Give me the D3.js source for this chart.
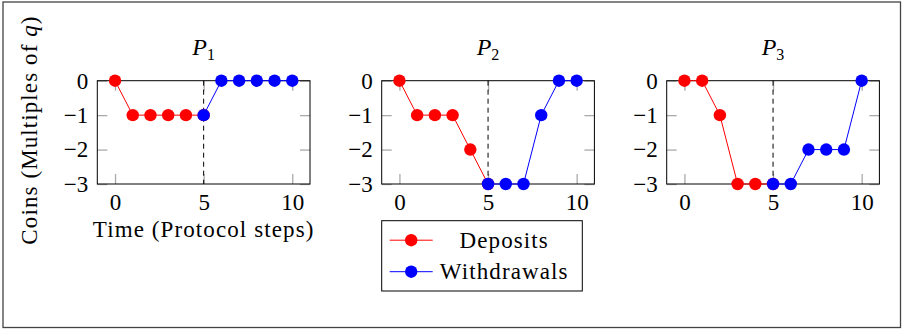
<!DOCTYPE html>
<html>
<head>
<meta charset="utf-8">
<script src="https://cdn.jsdelivr.net/npm/d3@7"></script>
<style>
  body { margin: 0; background: #fff; }
  svg text { font-family: "Liberation Serif", "Times New Roman", serif; fill: #000; }
  .label { letter-spacing: 1.1px; }
</style>
</head>
<body>
<div id="chart"></div>
<script>
// data
const panels = ['1', '2', '3'];
const depositSteps = [0, 1, 2, 3, 4, 5];
const withdrawalSteps = [5, 6, 7, 8, 9, 10];
const deposits = [
  [0, -1, -1, -1, -1, -1],
  [0, -1, -1, -1, -2, -3],
  [0, 0, -1, -3, -3, -3]
];
const withdrawals = [
  [-1, 0, 0, 0, 0, 0],
  [-3, -3, -3, -1, 0, 0],
  [-3, -3, -2, -2, -2, 0]
];
const xTicks = [0, 5, 10];
const yTicks = [0, -1, -2, -3];
const switchStep = 5;
const legendLabels = ['Deposits', 'Withdrawals'];
const colors = ['#ff0000', '#0000ff'];

// layout
const W = 903, H = 331;
const plotLeft = [97.3, 381.7, 666.7];
const plotTop = 80.7;
const plotW = 212.7, plotH = 103.3;
const tickLen = 10;
const fontSize = 23;

const svg = d3.select('#chart')
  .append('svg')
  .attr('width', W)
  .attr('height', H);

// outer frame
svg.append('rect')
  .attr('x', 3).attr('y', 2)
  .attr('width', 897.5).attr('height', 325.5)
  .attr('fill', 'none')
  .attr('stroke', '#444')
  .attr('stroke-width', 1.3);

const x = d3.scaleLinear().domain([-1, 11]).range([0, plotW]);
const y = d3.scaleLinear().domain([-3, 0]).range([plotH, 0]);
const fmt = d => d < 0 ? '\u2212' + Math.abs(d) : String(d);

panels.forEach((p, i) => {
  const g = svg.append('g')
    .attr('transform', 'translate(' + plotLeft[i] + ',' + plotTop + ')');

  // title
  const title = g.append('text')
    .attr('x', plotW / 2)
    .attr('y', -26)
    .attr('text-anchor', 'middle')
    .style('font-size', '24px');
  title.append('tspan').style('font-style', 'italic').text('P');
  title.append('tspan').attr('dy', 5).style('font-size', '16px').text(p);

  // axes with inward ticks
  const axes = [
    d3.axisLeft(y).tickValues(yTicks).tickSize(-tickLen).tickPadding(9).tickFormat(fmt),
    d3.axisRight(y).tickValues(yTicks).tickSize(-tickLen).tickFormat(''),
    d3.axisBottom(x).tickValues(xTicks).tickSize(-tickLen).tickPadding(10),
    d3.axisTop(x).tickValues(xTicks).tickSize(-tickLen).tickFormat('')
  ];
  const offsets = ['0,0', plotW + ',0', '0,' + plotH, '0,0'];
  axes.forEach((ax, k) => {
    const a = g.append('g')
      .attr('transform', 'translate(' + offsets[k] + ')')
      .call(ax);
    a.select('.domain').remove();
    a.selectAll('.tick line').attr('stroke', '#aaa').attr('stroke-width', 1.3);
    a.selectAll('.tick text')
      .style('font-size', fontSize + 'px')
      .attr('fill', '#000');
  });

  // frame
  g.append('rect')
    .attr('width', plotW).attr('height', plotH)
    .attr('fill', 'none')
    .attr('stroke', '#000')
    .attr('stroke-width', 1);

  // dashed separator
  g.append('line')
    .attr('x1', x(switchStep)).attr('x2', x(switchStep))
    .attr('y1', 0).attr('y2', plotH)
    .attr('stroke', '#000')
    .attr('stroke-width', 1)
    .attr('stroke-dasharray', '5,4');

  const series = [
    { steps: depositSteps, vals: deposits[i], color: colors[0] },
    { steps: withdrawalSteps, vals: withdrawals[i], color: colors[1] }
  ];
  const line = d3.line().x(d => x(d[0])).y(d => y(d[1]));

  series.forEach(s => {
    const pts = s.steps.map((st, j) => [st, s.vals[j]]);
    g.append('path')
      .datum(pts)
      .attr('d', line)
      .attr('fill', 'none')
      .attr('stroke', s.color)
      .attr('stroke-width', 1);
    g.selectAll(null)
      .data(pts)
      .enter()
      .append('circle')
      .attr('cx', d => x(d[0]))
      .attr('cy', d => y(d[1]))
      .attr('r', 6.2)
      .attr('fill', s.color);
  });

  if (i === 0) {
    g.append('text')
      .attr('class', 'label')
      .attr('x', plotW / 2)
      .attr('y', 237 - plotTop)
      .attr('text-anchor', 'middle')
      .style('font-size', fontSize + 'px')
      .text('Time (Protocol steps)');

    const yl = g.append('text')
      .attr('class', 'label')
      .attr('transform', 'translate(' + (37 - plotLeft[0]) + ',' + (130 - plotTop) + ') rotate(-90)')
      .attr('text-anchor', 'middle')
      .style('font-size', fontSize + 'px');
    yl.append('tspan').text('Coins (Multiples of ');
    yl.append('tspan').style('font-style', 'italic').text('q');
    yl.append('tspan').text(')');
  }
});

// legend
const legend = svg.append('g').attr('transform', 'translate(381.7,220.7)');
legend.append('rect')
  .attr('width', 200.6).attr('height', 70.3)
  .attr('fill', '#fff')
  .attr('stroke', '#000')
  .attr('stroke-width', 1);
legendLabels.forEach((lab, k) => {
  const cy = 19.5 + k * 31.5;
  legend.append('line')
    .attr('x1', 8).attr('x2', 51)
    .attr('y1', cy).attr('y2', cy)
    .attr('stroke', colors[k])
    .attr('stroke-width', 1);
  legend.append('circle')
    .attr('cx', 29.5).attr('cy', cy).attr('r', 6.2)
    .attr('fill', colors[k]);
  legend.append('text')
    .attr('class', 'label')
    .attr('x', 122.5)
    .attr('y', cy + 7.5)
    .attr('text-anchor', 'middle')
    .style('font-size', fontSize + 'px')
    .text(lab);
});
</script>
</body>
</html>
